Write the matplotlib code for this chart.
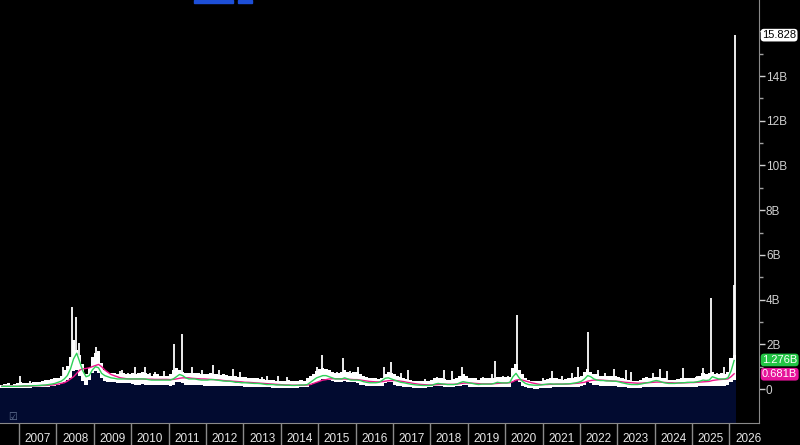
import numpy as np
import matplotlib
matplotlib.use("Agg")
import matplotlib.pyplot as plt
from matplotlib.patches import Rectangle

plt.rcParams["font.family"] = ["Liberation Sans", "DejaVu Sans"]

# ---------------- data (billions), monthly from Jul 2006 to Feb 2026 ----------------
start_year = 2006.5
lower_range = [
    0.05, 0.05, 0.05, 0.05, 0.05, 0.05,
    0.05, 0.05, 0.06, 0.06, 0.07, 0.07, 0.08, 0.08, 0.1, 0.1, 0.12, 0.15,
    0.2, 0.25, 0.3, 0.4, 0.5, 0.8, 0.85, 0.6, 0.35, 0.2, 0.4, 0.7,
    0.8, 0.7, 0.5, 0.35, 0.3, 0.3, 0.3, 0.28, 0.28, 0.28, 0.25, 0.25,
    0.22, 0.2, 0.2, 0.22, 0.2, 0.2, 0.18, 0.18, 0.18, 0.18, 0.17, 0.17,
    0.15, 0.2, 0.3, 0.3, 0.25, 0.2, 0.2, 0.2, 0.2, 0.18, 0.18, 0.15,
    0.15, 0.15, 0.15, 0.14, 0.14, 0.13, 0.13, 0.13, 0.12, 0.12, 0.12, 0.12,
    0.1, 0.1, 0.1, 0.09, 0.09, 0.08, 0.08, 0.07, 0.07, 0.06, 0.06, 0.05,
    0.05, 0.05, 0.05, 0.05, 0.05, 0.06, 0.07, 0.08, 0.1, 0.2, 0.25, 0.3,
    0.35, 0.45, 0.45, 0.4, 0.35, 0.3, 0.3, 0.3, 0.35, 0.3, 0.3, 0.3,
    0.25, 0.2, 0.18, 0.15, 0.12, 0.12, 0.12, 0.12, 0.15, 0.25, 0.3, 0.3,
    0.2, 0.15, 0.12, 0.1, 0.08, 0.07, 0.06, 0.06, 0.06, 0.06, 0.06, 0.08,
    0.1, 0.15, 0.15, 0.12, 0.1, 0.1, 0.1, 0.1, 0.12, 0.15, 0.2, 0.18,
    0.1, 0.08, 0.08, 0.08, 0.08, 0.1, 0.08, 0.1, 0.1, 0.1, 0.1, 0.1,
    0.1, 0.1, 0.3, 0.4, 0.3, 0.15, 0.08, 0.05, 0.03, 0.02, 0.02, 0.03,
    0.05, 0.06, 0.06, 0.07, 0.07, 0.07, 0.07, 0.08, 0.08, 0.08, 0.1, 0.1,
    0.15, 0.2, 0.3, 0.25, 0.2, 0.18, 0.15, 0.15, 0.12, 0.12, 0.12, 0.12,
    0.1, 0.08, 0.07, 0.06, 0.05, 0.05, 0.05, 0.06, 0.07, 0.08, 0.08, 0.1,
    0.1, 0.1, 0.09, 0.08, 0.08, 0.08, 0.08, 0.08, 0.09, 0.1, 0.1, 0.1,
    0.1, 0.1, 0.12, 0.15, 0.15, 0.15, 0.15, 0.15, 0.15, 0.15, 0.15, 0.18,
    0.3, 0.4,
]
upper_range = [
    0.2, 0.22, 0.25, 0.2, 0.22, 0.25,
    0.32, 0.25, 0.28, 0.28, 0.3, 0.33, 0.33, 0.35, 0.4, 0.4, 0.45, 0.5,
    0.5, 0.6, 0.85, 1.05, 1.45, 2.2, 1.75, 1.5, 1.1, 0.65, 0.95, 1.45,
    1.6, 1.7, 1.15, 0.85, 0.75, 0.7, 0.7, 0.65, 0.7, 0.7, 0.65, 0.65,
    0.7, 0.65, 0.7, 0.75, 0.7, 0.65, 0.6, 0.65, 0.65, 0.6, 0.6, 0.6,
    0.65, 0.85, 0.95, 0.85, 0.75, 0.7, 0.7, 0.72, 0.7, 0.72, 0.68, 0.65,
    0.68, 0.72, 0.68, 0.68, 0.62, 0.65, 0.62, 0.6, 0.58, 0.58, 0.55, 0.52,
    0.52, 0.5, 0.48, 0.48, 0.5, 0.46, 0.45, 0.42, 0.42, 0.4, 0.38, 0.38,
    0.38, 0.38, 0.4, 0.38, 0.38, 0.38, 0.4, 0.38, 0.48, 0.6, 0.68, 0.8,
    0.9, 0.95, 0.9, 0.85, 0.78, 0.72, 0.7, 0.78, 0.85, 0.78, 0.72, 0.75,
    0.75, 0.65, 0.6, 0.52, 0.48, 0.48, 0.48, 0.45, 0.5, 0.65, 0.75, 0.7,
    0.65, 0.6, 0.55, 0.5, 0.45, 0.42, 0.38, 0.38, 0.38, 0.38, 0.38, 0.38,
    0.42, 0.5, 0.5, 0.48, 0.45, 0.42, 0.42, 0.45, 0.5, 0.6, 0.65, 0.6,
    0.5, 0.48, 0.48, 0.42, 0.48, 0.5, 0.48, 0.5, 0.5, 0.55, 0.52, 0.52,
    0.52, 0.55, 0.95, 1.1, 0.85, 0.65, 0.5, 0.42, 0.38, 0.38, 0.38, 0.38,
    0.42, 0.45, 0.48, 0.5, 0.48, 0.45, 0.42, 0.45, 0.48, 0.5, 0.52, 0.55,
    0.6, 0.75, 0.9, 0.75, 0.65, 0.65, 0.6, 0.6, 0.58, 0.6, 0.58, 0.6,
    0.52, 0.48, 0.45, 0.42, 0.38, 0.38, 0.38, 0.42, 0.48, 0.52, 0.48, 0.55,
    0.55, 0.55, 0.5, 0.48, 0.42, 0.42, 0.42, 0.45, 0.48, 0.5, 0.48, 0.5,
    0.5, 0.55, 0.6, 0.72, 0.65, 0.7, 0.75, 0.65, 0.65, 0.7, 0.68, 0.75,
    1.4, 1.5,
]
ma_short = [
    0.12, 0.12, 0.12, 0.12, 0.12, 0.12,
    0.13, 0.14, 0.14, 0.14, 0.15, 0.15, 0.16, 0.17, 0.18, 0.2, 0.22, 0.25,
    0.3, 0.35, 0.45, 0.6, 0.9, 1.35, 1.6, 1.2, 0.8, 0.55, 0.6, 0.85,
    1.0, 0.95, 0.7, 0.6, 0.55, 0.5, 0.48, 0.45, 0.45, 0.45, 0.45, 0.45,
    0.45, 0.45, 0.45, 0.45, 0.45, 0.42, 0.4, 0.4, 0.4, 0.4, 0.4, 0.4,
    0.4, 0.45, 0.55, 0.65, 0.6, 0.5, 0.45, 0.45, 0.45, 0.42, 0.4, 0.4,
    0.4, 0.42, 0.42, 0.4, 0.38, 0.36, 0.35, 0.35, 0.33, 0.3, 0.3, 0.28,
    0.28, 0.27, 0.26, 0.25, 0.25, 0.24, 0.22, 0.2, 0.2, 0.2, 0.18, 0.18,
    0.18, 0.17, 0.17, 0.16, 0.16, 0.17, 0.18, 0.18, 0.2, 0.3, 0.4, 0.5,
    0.55, 0.6, 0.6, 0.55, 0.5, 0.45, 0.45, 0.45, 0.5, 0.45, 0.4, 0.4,
    0.4, 0.38, 0.33, 0.3, 0.28, 0.28, 0.28, 0.3, 0.38, 0.48, 0.5, 0.45,
    0.4, 0.35, 0.3, 0.28, 0.25, 0.22, 0.2, 0.18, 0.17, 0.16, 0.16, 0.16,
    0.17, 0.22, 0.25, 0.23, 0.22, 0.2, 0.2, 0.2, 0.22, 0.28, 0.33, 0.3,
    0.28, 0.25, 0.22, 0.2, 0.22, 0.22, 0.22, 0.22, 0.25, 0.3, 0.28, 0.27,
    0.27, 0.3, 0.55, 0.7, 0.5, 0.35, 0.25, 0.2, 0.18, 0.17, 0.17, 0.18,
    0.2, 0.22, 0.23, 0.22, 0.22, 0.22, 0.22, 0.23, 0.23, 0.25, 0.27, 0.3,
    0.35, 0.45, 0.6, 0.55, 0.45, 0.4, 0.38, 0.38, 0.36, 0.36, 0.35, 0.35,
    0.32, 0.28, 0.25, 0.22, 0.2, 0.2, 0.2, 0.22, 0.25, 0.28, 0.3, 0.35,
    0.38, 0.35, 0.3, 0.27, 0.25, 0.25, 0.25, 0.27, 0.28, 0.28, 0.3, 0.3,
    0.3, 0.32, 0.35, 0.4, 0.38, 0.4, 0.55, 0.5, 0.45, 0.45, 0.45, 0.5,
    0.8, 1.276,
]
ma_long = [
    0.12, 0.12, 0.12, 0.12, 0.12, 0.12,
    0.12, 0.13, 0.13, 0.14, 0.14, 0.15, 0.15, 0.16, 0.16, 0.17, 0.18, 0.2,
    0.22, 0.25, 0.28, 0.35, 0.45, 0.55, 0.7, 0.85, 0.9, 0.92, 0.95, 1.0,
    1.05, 1.1, 1.0, 0.85, 0.75, 0.65, 0.6, 0.55, 0.5, 0.48, 0.46, 0.45,
    0.45, 0.45, 0.45, 0.45, 0.44, 0.44, 0.44, 0.43, 0.43, 0.43, 0.43, 0.43,
    0.42, 0.43, 0.45, 0.48, 0.5, 0.5, 0.5, 0.48, 0.47, 0.46, 0.45, 0.45,
    0.44, 0.43, 0.42, 0.41, 0.4, 0.38, 0.37, 0.36, 0.35, 0.34, 0.33, 0.32,
    0.3, 0.3, 0.29, 0.28, 0.27, 0.26, 0.25, 0.24, 0.23, 0.22, 0.21, 0.2,
    0.19, 0.18, 0.18, 0.17, 0.17, 0.17, 0.17, 0.17, 0.18, 0.2, 0.25, 0.3,
    0.35, 0.4, 0.42, 0.45, 0.46, 0.46, 0.46, 0.45, 0.45, 0.44, 0.43, 0.42,
    0.42, 0.4, 0.38, 0.36, 0.34, 0.33, 0.32, 0.32, 0.33, 0.35, 0.37, 0.38,
    0.38, 0.37, 0.35, 0.33, 0.3, 0.28, 0.25, 0.23, 0.21, 0.2, 0.19, 0.18,
    0.18, 0.19, 0.2, 0.21, 0.21, 0.21, 0.21, 0.21, 0.22, 0.24, 0.26, 0.27,
    0.27, 0.26, 0.25, 0.24, 0.23, 0.23, 0.23, 0.23, 0.24, 0.25, 0.26, 0.27,
    0.27, 0.28, 0.33, 0.4, 0.42, 0.4, 0.36, 0.32, 0.28, 0.25, 0.22, 0.2,
    0.2, 0.2, 0.21, 0.21, 0.22, 0.22, 0.22, 0.22, 0.23, 0.24, 0.25, 0.26,
    0.28, 0.3, 0.35, 0.38, 0.4, 0.4, 0.4, 0.39, 0.38, 0.37, 0.36, 0.35,
    0.34, 0.32, 0.3, 0.29, 0.28, 0.27, 0.26, 0.26, 0.27, 0.28, 0.29, 0.3,
    0.31, 0.31, 0.3, 0.29, 0.28, 0.28, 0.27, 0.27, 0.27, 0.28, 0.28, 0.29,
    0.29, 0.3, 0.31, 0.32, 0.33, 0.34, 0.38, 0.4, 0.42, 0.43, 0.44, 0.45,
    0.55, 0.681,
]
spike_dates = [2007.03, 2007.29, 2007.7, 2008.18, 2008.42, 2008.52, 2008.6,
               2009.05, 2009.7, 2009.75, 2009.91, 2010.1, 2010.37, 2010.5,
               2010.64, 2010.88, 2011.15, 2011.2, 2011.36, 2011.63, 2011.89,
               2012.19, 2012.35, 2012.72, 2012.91, 2013.5, 2013.63, 2013.93,
               2014.17, 2014.97, 2015.1, 2015.32, 2015.5, 2015.66, 2015.85,
               2016.06, 2016.76, 2016.95, 2017.21, 2017.4, 2017.86, 2018.18,
               2018.36, 2018.58, 2018.85, 2019.41, 2019.65, 2019.73, 2019.94,
               2020.07, 2020.32, 2021.01, 2021.25, 2021.52, 2021.79, 2021.95,
               2022.22, 2022.48, 2022.67, 2022.91, 2023.23, 2023.37, 2023.95,
               2024.14, 2024.33, 2024.75, 2025.13, 2025.29, 2025.5, 2025.66,
               2025.85, 2026.06, 2026.13, 2026.16]
spike_values = [0.58, 0.35, 0.4, 1.0, 3.67, 3.2, 2.05,
                1.9, 0.8, 0.85, 0.7, 1.0, 1.0, 0.7,
                0.75, 0.8, 2.0, 0.9, 2.45, 1.0, 0.85,
                1.07, 0.85, 0.9, 0.75, 0.55, 0.6, 0.6,
                0.55, 1.0, 1.5, 0.85, 0.75, 1.4, 0.8,
                1.0, 1.0, 1.2, 0.7, 0.85, 0.45, 0.55,
                0.85, 0.8, 1.0, 0.55, 0.65, 1.25, 0.6,
                0.6, 3.3, 0.5, 0.8, 0.6, 0.7, 1.0,
                2.55, 0.85, 0.7, 0.9, 0.85, 0.75, 0.7,
                0.9, 0.8, 0.95, 0.6, 0.95, 4.07, 0.7,
                1.0, 1.3, 4.65, 15.828]
year_labels = [str(y) for y in range(2007, 2027)]
ytick_values = [0, 2, 4, 6, 8, 10, 12, 14]
ytick_labels = ["0", "2B", "4B", "6B", "8B", "10B", "12B", "14B"]
last_value_label = "15.828"
short_label = "1.276B"
long_label = "0.681B"

# ---------------- figure ----------------
BG = "black"
NAVY = "#020b30"
GREEN = "#2ed158"
MAGENTA = "#f0148c"
GREY = "#8a8a8a"

fig = plt.figure(figsize=(8.0, 4.45), dpi=100, facecolor=BG)
ax = fig.add_axes([0.0, 22 / 445, 759 / 800, 423 / 445], facecolor=BG)

n = len(upper_range)
edges = start_year + np.arange(n + 1) / 12.0
centers = start_year + (np.arange(n) + 0.5) / 12.0
lo = np.array(lower_range + [lower_range[-1]])
hi = np.array(upper_range + [upper_range[-1]])

ymin, ymax = -1.52, 17.4
# spikes drawn first so the navy area hides their lower part
ax.vlines(spike_dates, 0, spike_values, color="white", lw=1.3, zorder=1)
ax.fill_between(edges, ymin, lo, step="post", color=NAVY, lw=0, zorder=2)
ax.fill_between(edges, lo, hi, step="post", color="white", lw=0, zorder=3)
ax.plot(centers, ma_long, color=MAGENTA, lw=1.0, zorder=4)
ax.plot(centers, ma_short, color=GREEN, lw=1.0, zorder=5)

ax.set_xlim(2006.49, 2026.79)
ax.set_ylim(ymin, ymax)

for s in ["top", "left"]:
    ax.spines[s].set_visible(False)
ax.spines["right"].set_color(GREY)
ax.spines["bottom"].set_color(GREY)

# y axis on right
ax.yaxis.tick_right()
ax.set_yticks(ytick_values)
ax.set_yticklabels(ytick_labels)
ax.set_yticks(list(np.arange(1, 17, 2)) + [16], minor=True)
ax.tick_params(axis="y", which="major", colors="#d0d0d0", labelsize=8.5,
               length=4, width=1, direction="out", pad=1)
ax.tick_params(axis="y", which="minor", colors="#a0a0a0", length=3, width=1)

# x axis: separators at year starts, labels at mid-year
ax.set_xticks(np.arange(2007, 2027))
ax.set_xticklabels([""] * 20)
ax.set_xticks(np.arange(2007, 2027) + 0.5, minor=True)
ax.set_xticklabels(year_labels, minor=True)
ax.tick_params(axis="x", which="major", colors=GREY, length=16, width=1,
               direction="out")
ax.tick_params(axis="x", which="minor", length=0, labelsize=8.5,
               labelcolor="#e6e6e6", pad=7)

def tag(val, text, fc, tc):
    ax.annotate(text, xy=(1.0, val), xycoords=("axes fraction", "data"),
                xytext=(2.2, 0), textcoords="offset points", ha="left",
                va="center", fontsize=8, color=tc, zorder=10,
                annotation_clip=False,
                bbox=dict(boxstyle="round,pad=0.12,rounding_size=0.3",
                          fc=fc, ec="none"))

tag(15.828, last_value_label, "white", "black")
tag(1.3, short_label, "#22c444", "white")
tag(0.66, long_label, "#e6149a", "white")

fig.patches.append(Rectangle((194 / 800, 1 - 2.5 / 445), 39 / 800, 2.5 / 445,
                             transform=fig.transFigure, color="#1d4fd8"))
fig.patches.append(Rectangle((238 / 800, 1 - 2.5 / 445), 14 / 800, 2.5 / 445,
                             transform=fig.transFigure, color="#1d4fd8"))
fig.text(8 / 800, 1 - 417 / 445, "\u2611", fontsize=7, color="#6a7a9a",
         va="center", ha="left")

fig.savefig("out.png", dpi=100, facecolor=BG)
